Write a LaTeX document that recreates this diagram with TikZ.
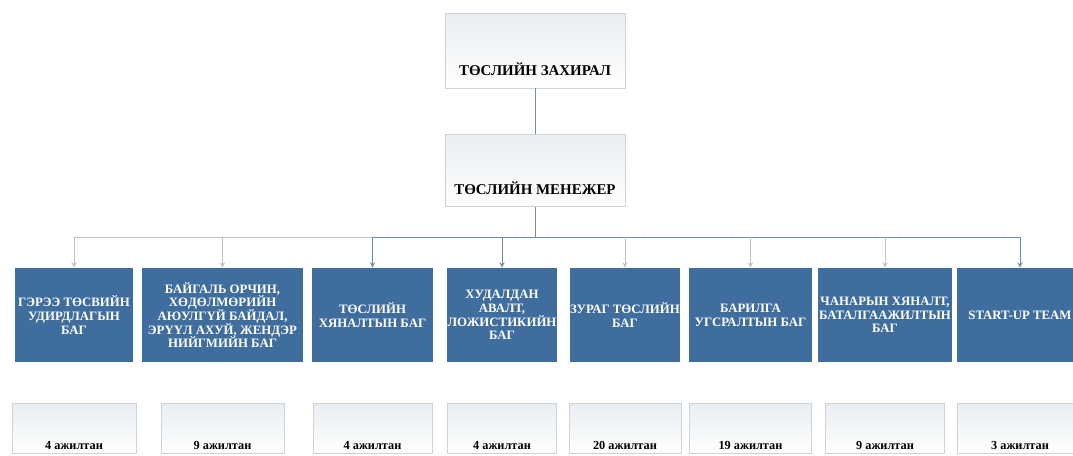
\documentclass[tikz,border=0pt]{standalone}
\usepackage{fontspec}
\setmainfont{Liberation Serif}
\usetikzlibrary{arrows,positioning}

\definecolor{TeamBlue}{HTML}{3F6D9E}
\definecolor{LinkGrey}{HTML}{6F8DA3}
\definecolor{LinkPale}{HTML}{B9C5CE}
\definecolor{PaperEdge}{HTML}{CDD3D8}
\definecolor{PaperTint}{HTML}{E9EEF2}
\newcommand{\teamfont}{\fontsize{7.3}{7.8}\selectfont\bfseries\lineskiplimit=-6pt\relax}

\begin{document}
\begin{tikzpicture}[x=0.02cm,y=-0.02cm,>=stealth,
	Head/.style={rectangle,draw=PaperEdge,top color=PaperTint,bottom color=white,minimum width=3.6cm,inner xsep=2pt,inner ysep=0.1cm,text depth=0.14cm,font=\fontsize{8.5}{10}\selectfont\bfseries},
	Team/.style={rectangle,fill=TeamBlue,text=white,minimum height=1.88cm,inner xsep=0pt,inner ysep=1pt,align=center,font=\teamfont},
	Staff/.style={rectangle,draw=PaperEdge,top color=PaperTint,bottom color=white,inner xsep=2pt,inner ysep=0.04cm,text height=0.88cm,text depth=0.04cm,font=\fontsize{7}{8}\selectfont\bfseries},
	Link/.style={LinkGrey,line width=0.4pt},
	LinkFaint/.style={LinkPale,line width=0.4pt},
	Edge/.style={->,LinkGrey,line width=0.4pt},
	EdgeFaint/.style={->,LinkPale,line width=0.4pt},
]
	\useasboundingbox (0,0) rectangle (1073,456);

	% top of the chart
	\node[Head,text height=1.16cm] (Dir) at (535,50.5) {ТӨСЛИЙН ЗАХИРАЛ};
	\node[Head,text height=1.10cm,below=0.92cm of Dir] (Mgr) {ТӨСЛИЙН МЕНЕЖЕР};

	% teams
	\node[Team,minimum width=2.36cm] (Contract) at (74,315) {ГЭРЭЭ ТӨСВИЙН\\УДИРДЛАГЫН\\БАГ};
	\node[Team,minimum width=3.22cm] (Safety) at (222.5,315) {БАЙГАЛЬ ОРЧИН,\\ХӨДӨЛМӨРИЙН\\АЮУЛГҮЙ БАЙДАЛ,\\ЭРҮҮЛ АХУЙ, ЖЕНДЭР\\НИЙГМИЙН БАГ};
	\node[Team,minimum width=2.42cm] (Control) at (372.5,315) {ТӨСЛИЙН\\ХЯНАЛТЫН БАГ};
	\node[Team,minimum width=2.2cm] (Supply) at (502,315) {ХУДАЛДАН\\АВАЛТ,\\ЛОЖИСТИКИЙН\\БАГ};
	\node[Team,minimum width=2.2cm] (Design) at (625,315) {ЗУРАГ ТӨСЛИЙН\\БАГ};
	\node[Team,minimum width=2.46cm] (Build) at (750.5,315) {БАРИЛГА\\УГСРАЛТЫН БАГ};
	\node[Team,minimum width=2.68cm] (Quality) at (885,315) {ЧАНАРЫН ХЯНАЛТ,\\БАТАЛГААЖИЛТЫН\\БАГ};
	\node[Team,minimum width=2.52cm] (Startup) at (1020,315) {START-UP TEAM};

	% staff counts
	\node[Staff,minimum width=2.48cm,below=0.82cm of Contract] (ContractN) {4 ажилтан};
	\node[Staff,minimum width=2.46cm,below=0.82cm of Safety] (SafetyN) {9 ажилтан};
	\node[Staff,minimum width=2.38cm,below=0.82cm of Control] (ControlN) {4 ажилтан};
	\node[Staff,minimum width=2.18cm,below=0.82cm of Supply] (SupplyN) {4 ажилтан};
	\node[Staff,minimum width=2.24cm,below=0.82cm of Design] (DesignN) {20 ажилтан};
	\node[Staff,minimum width=2.44cm,below=0.82cm of Build] (BuildN) {19 ажилтан};
	\node[Staff,minimum width=2.38cm,below=0.82cm of Quality] (QualityN) {9 ажилтан};
	\node[Staff,minimum width=2.52cm,below=0.82cm of Startup] (StartupN) {3 ажилтан};

	% connectors
	\coordinate (Bus) at (535,237);
	\draw[Link] (Dir) -- (Mgr);
	\draw[Link] (Mgr) -- (Bus);
	\draw[LinkFaint] (Bus -| Contract.north) -- (Bus -| Control.north);
	\draw[Link] (Bus -| Control.north) -- (Bus -| Startup.north);

	\path[EdgeFaint]
	(Bus -| Contract.north) edge (Contract)
	(Bus -| Safety.north) edge (Safety)
	(Bus -| Design.north) edge (Design)
	(Bus -| Build.north) edge (Build)
	(Bus -| Quality.north) edge (Quality)
	;
	\path[Edge]
	(Bus -| Control.north) edge (Control)
	(Bus -| Supply.north) edge (Supply)
	(Bus -| Startup.north) edge (Startup)
	;
\end{tikzpicture}
\end{document}
